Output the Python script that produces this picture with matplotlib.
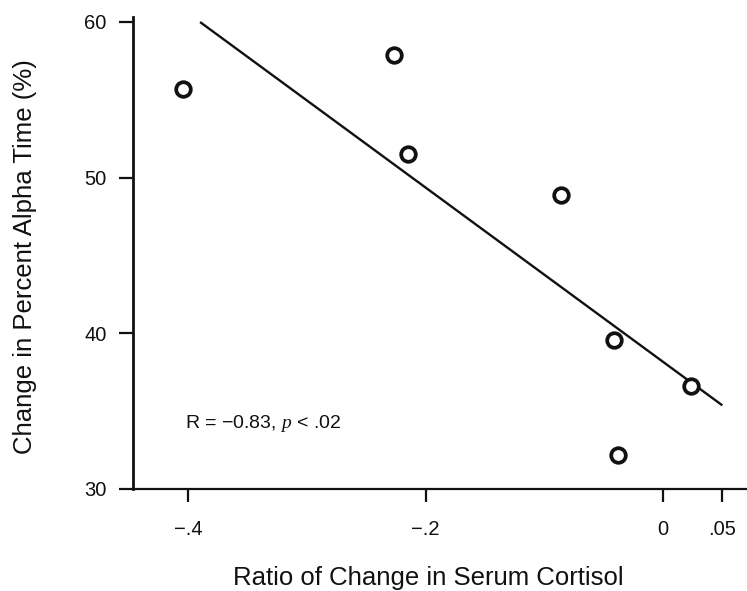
import numpy as np
import matplotlib
matplotlib.use("Agg")
import matplotlib.pyplot as plt

plt.rcParams['font.family'] = ['Liberation Sans', 'DejaVu Sans']
plt.rcParams['mathtext.fontset'] = 'custom'
plt.rcParams['mathtext.it'] = 'Liberation Serif:italic'
plt.rcParams['mathtext.rm'] = 'Liberation Sans'

# Data
cortisol_ratio = [-0.404, -0.227, -0.215, -0.086, -0.041, -0.038, 0.024]
alpha_change = [55.7, 57.9, 51.5, 48.9, 39.6, 32.2, 36.6]
fit_x_range = [-0.39, 0.05]

xtick_vals = [-0.4, -0.2, 0.0, 0.05]
xtick_labels = ['\u2212.4', '\u2212.2', '0', '.05']
ytick_vals = [30, 40, 50, 60]
ytick_labels = ['30', '40', '50', '60']

annotation = r'R = $-$0.83, $\mathit{p}$ < .02'
xlabel = 'Ratio of Change in Serum Cortisol'
ylabel = 'Change in Percent Alpha Time (%)'

W, H = 747, 591
fig = plt.figure(figsize=(W / 100, H / 100), dpi=100)
ax = fig.add_axes([133 / W, 1 - 489 / H, 1 - 133 / W, (489 - 17) / H])

ax.set_xlim(-0.4465, 0.0708)
ax.set_ylim(30, 60.31)

# regression line
slope, intercept = np.polyfit(cortisol_ratio, alpha_change, 1)
lx = np.array(fit_x_range)
ax.plot(lx, slope * lx + intercept, color='#111111', lw=1.7, solid_capstyle='butt', zorder=2)

ax.plot(cortisol_ratio, alpha_change, linestyle='none', marker='o', markersize=10.5,
        markerfacecolor='white', markeredgecolor='#111111', markeredgewidth=2.7, zorder=3)

ax.text(-0.403, 34.2, annotation, ha='left', va='center', fontsize=14, color='#111111')

for side in ['top', 'right']:
    ax.spines[side].set_visible(False)
ax.spines['left'].set_linewidth(2.0)
ax.spines['bottom'].set_linewidth(1.6)
ax.spines['left'].set_color('#111111')
ax.spines['bottom'].set_color('#111111')

ax.set_xticks(xtick_vals)
ax.set_xticklabels(xtick_labels)
ax.set_yticks(ytick_vals)
ax.set_yticklabels(ytick_labels)
ax.tick_params(axis='x', direction='out', length=9, width=1.6, pad=13,
               labelsize=14.5, colors='#111111')
ax.tick_params(axis='y', direction='out', length=10, width=1.6, pad=9,
               labelsize=14.5, colors='#111111')

fig.text(428 / W, 1 - 578 / H, xlabel, ha='center', va='center', fontsize=18.5, color='#111111')
fig.text(25 / W, 1 - 257 / H, ylabel, ha='center', va='center', rotation=90,
         fontsize=18.5, color='#111111')

fig.savefig('out.png', dpi=100)
